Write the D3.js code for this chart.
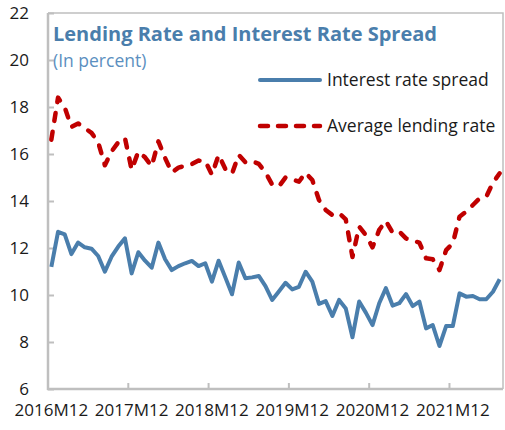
<!DOCTYPE html>
<html>
<head>
<meta charset="utf-8">
<script src="https://cdn.jsdelivr.net/npm/d3@7"></script>
<style>
  body { margin: 0; background: #fff; }
  text { font-family: "Open Sans", "Noto Sans", sans-serif; }
</style>
</head>
<body>
<div id="chart"></div>
<script>
// monthly categories, 2016M12 .. 2022M07
let startYear = 2016, startMonth = 12, nMonths = 68;
let months = [];
for (let i = 0; i < nMonths; i++) {
  let m = startMonth - 1 + i;
  months.push((startYear + Math.floor(m / 12)) + 'M' + (m % 12 + 1));
}

// interest rate spread (percent)
let spread = [
  11.20, 12.69, 12.58, 11.74, 12.23, 12.03, 11.97, 11.66, 10.99, 11.63, 12.06, 12.41,
  10.92, 11.82, 11.46, 11.16, 12.23, 11.52, 11.06, 11.23, 11.35, 11.45, 11.23, 11.35,
  10.57, 11.46, 10.75, 10.03, 11.38, 10.71, 10.75, 10.81, 10.38, 9.79, 10.15, 10.52,
  10.24, 10.35, 10.99, 10.57, 9.62, 9.74, 9.11, 9.79, 9.43, 8.20, 9.72, 9.25,
  8.72, 9.65, 10.29, 9.55, 9.65, 10.04, 9.53, 9.72, 8.58, 8.72, 7.83, 8.68,
  8.68, 10.07, 9.93, 9.96, 9.82, 9.82, 10.14, 10.67
];

// average lending rate (percent)
let lending = [
  16.61, 18.40, 17.98, 17.15, 17.30, 17.10, 16.90, 16.50, 15.52, 16.11, 16.50, 16.68,
  15.33, 16.10, 15.86, 15.48, 16.54, 15.83, 15.22, 15.42, 15.50, 15.57, 15.72, 15.70,
  15.12, 15.96, 15.37, 15.16, 15.96, 15.65, 15.70, 15.58, 15.22, 14.70, 14.62, 15.00,
  14.92, 14.82, 15.20, 14.89, 14.04, 13.62, 13.40, 13.48, 13.22, 11.62, 12.91, 12.55,
  12.03, 12.77, 13.15, 12.65, 12.70, 12.41, 12.31, 12.23, 11.56, 11.52, 11.06, 11.91,
  12.20, 13.33, 13.55, 13.83, 14.11, 14.18, 14.78, 15.18
];

let yTicks = [6, 8, 10, 12, 14, 16, 18, 20, 22];
let xTickLabels = ['2016M12', '2017M12', '2018M12', '2019M12', '2020M12', '2021M12'];
let seriesNames = ['Interest rate spread', 'Average lending rate'];

let blue = '#4a7eac', red = '#c00000', grey = '#bfbfbf';

let config = { svg: { width: 505, height: 430 }, plot: {} };
config.plot.left = 48;
config.plot.right = 503;
config.plot.top = 13;
config.plot.bottom = 389;

let svg = d3.select('#chart').append('svg')
  .attr('width', config.svg.width)
  .attr('height', config.svg.height);

let x = d3.scaleBand()
  .domain(months)
  .range([config.plot.left, config.plot.right])
  .padding(0);
let cx = d => x(d) + x.bandwidth() / 2;

let y = d3.scaleLinear()
  .domain([6, 22])
  .range([config.plot.bottom, config.plot.top]);

// frame: top and right
svg.append('path')
  .attr('d', 'M' + config.plot.left + ',' + config.plot.top + 'H' + config.plot.right + 'V' + config.plot.bottom)
  .attr('fill', 'none')
  .attr('stroke', grey)
  .attr('stroke-width', 1.5);

// y axis, ticks pointing inward
let yAxis = svg.append('g')
  .attr('transform', 'translate(' + config.plot.left + ',0)')
  .call(d3.axisRight(y).tickValues(yTicks).tickSize(6).tickFormat(''));
yAxis.select('.domain').remove();
yAxis.selectAll('line').attr('stroke', grey).attr('stroke-width', 2);
svg.append('line')
  .attr('x1', config.plot.left).attr('x2', config.plot.left)
  .attr('y1', config.plot.top).attr('y2', config.plot.bottom + 1)
  .attr('stroke', grey).attr('stroke-width', 2.5);

svg.selectAll('.ylab')
  .data(yTicks).enter()
  .append('text')
  .attr('class', 'ylab')
  .attr('x', 29)
  .attr('y', d => y(d))
  .attr('dy', '0.35em')
  .attr('text-anchor', 'end')
  .style('font-size', '17px')
  .style('fill', '#1a1a1a')
  .text(d => d);

// x axis: ticks between categories, labels centred on category
svg.append('line')
  .attr('x1', config.plot.left - 1).attr('x2', config.plot.right)
  .attr('y1', config.plot.bottom).attr('y2', config.plot.bottom)
  .attr('stroke', grey).attr('stroke-width', 2.5);

svg.selectAll('.xtick')
  .data(xTickLabels).enter()
  .append('line')
  .attr('class', 'xtick')
  .attr('x1', d => x(d)).attr('x2', d => x(d))
  .attr('y1', config.plot.bottom).attr('y2', config.plot.bottom - 6)
  .attr('stroke', grey).attr('stroke-width', 2);

svg.selectAll('.xlab')
  .data(xTickLabels).enter()
  .append('text')
  .attr('class', 'xlab')
  .attr('x', d => cx(d))
  .attr('y', 416)
  .attr('text-anchor', 'middle')
  .style('font-size', '17px')
  .style('fill', '#1a1a1a')
  .text(d => d);

// lines
let line = d3.line()
  .x((d, i) => cx(months[i]))
  .y(d => y(d));

svg.append('path')
  .datum(spread)
  .attr('d', line)
  .attr('fill', 'none')
  .attr('stroke', blue)
  .attr('stroke-width', 4)
  .attr('stroke-linejoin', 'round');

svg.append('path')
  .datum(lending)
  .attr('d', line)
  .attr('fill', 'none')
  .attr('stroke', red)
  .attr('stroke-width', 4.5)
  .attr('stroke-dasharray', '8,11')
  .attr('stroke-linecap', 'round')
  .attr('stroke-linejoin', 'round');

// title
svg.append('text')
  .attr('x', 53)
  .attr('y', 41)
  .style('font-size', '20px')
  .style('font-weight', 'bold')
  .style('fill', blue)
  .text('Lending Rate and Interest Rate Spread');

svg.append('text')
  .attr('x', 53)
  .attr('y', 67)
  .style('font-size', '17.5px')
  .style('fill', '#5b8fc0')
  .text('(In percent)');

// legend
let legend = svg.selectAll('.legend')
  .data(seriesNames).enter()
  .append('g')
  .attr('class', 'legend')
  .attr('transform', (d, i) => 'translate(0,' + (80 + i * 46) + ')');

legend.append('line')
  .attr('x1', 260).attr('x2', 320)
  .attr('stroke', (d, i) => i === 0 ? blue : red)
  .attr('stroke-width', (d, i) => i === 0 ? 4 : 4.5)
  .attr('stroke-linecap', 'round')
  .attr('stroke-dasharray', (d, i) => i === 0 ? null : '8,10');

legend.append('text')
  .attr('x', 327)
  .attr('y', 0)
  .attr('dy', '0.35em')
  .style('font-size', '17.5px')
  .style('fill', '#1a1a1a')
  .text(d => d);
</script>
</body>
</html>
